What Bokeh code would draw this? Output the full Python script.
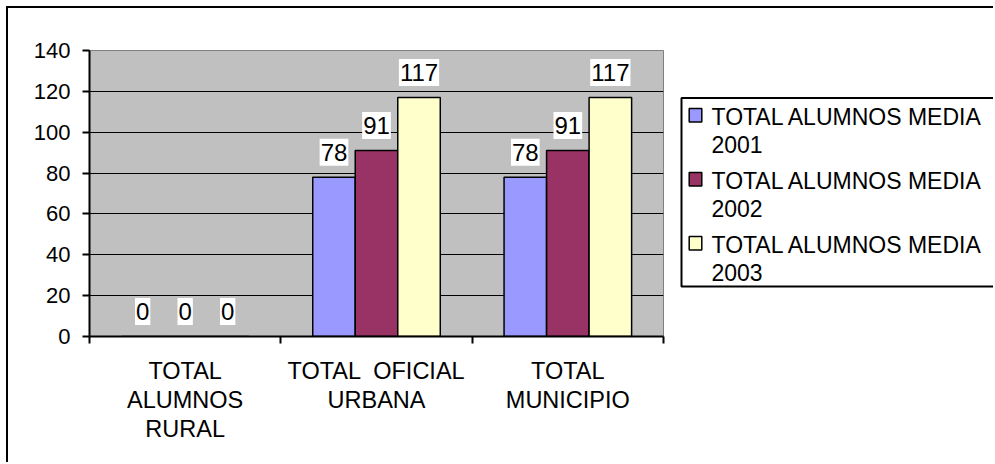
import numpy as np
from bokeh.plotting import figure
from bokeh.layouts import row
from bokeh.models import ColumnDataSource, Range1d, FixedTicker
from bokeh.core.properties import value
from bokeh.embed import file_html
from bokeh.resources import INLINE

# Chart data
categories = ["TOTAL\nALUMNOS\nRURAL", "TOTAL \u00a0OFICIAL\nURBANA", "TOTAL\nMUNICIPIO"]
series_names = ["TOTAL ALUMNOS MEDIA\n2001", "TOTAL ALUMNOS MEDIA\n2002", "TOTAL ALUMNOS MEDIA\n2003"]
media_2001 = [0, 78, 78]
media_2002 = [0, 91, 91]
media_2003 = [0, 117, 117]
series_colors = ["#9999FF", "#993366", "#FFFFCC"]
y_ticks = [0, 20, 40, 60, 80, 100, 120, 140]

FONT = "Liberation Sans"
FRAME = "2px solid black"
TOP, BOTTOM = 42, 128   # space above / below the plot area

# ---- bar chart ----------------------------------------------------------
p = figure(width=660, height=456, output_backend="svg", toolbar_location=None,
           x_range=Range1d(0, len(categories)), y_range=Range1d(0, y_ticks[-1]),
           min_border_left=81, min_border_right=5, min_border_top=TOP, min_border_bottom=BOTTOM,
           background_fill_color="#C0C0C0", border_fill_color="white")
p.outline_line_color = "#808080"
p.outline_line_width = 1
p.margin = (6, 0, 0, 6)
p.styles = {"border-left": FRAME, "border-top": FRAME}

# clustered bars: three series per category, 150% gap
bar_w = 1 / 4.5
offsets = [-bar_w, 0.0, bar_w]
centers = np.arange(len(categories)) + 0.5
for vals, color, off in zip([media_2001, media_2002, media_2003], series_colors, offsets):
    src = ColumnDataSource(dict(x=centers + off, top=vals, label=[str(v) for v in vals]))
    p.vbar(x="x", top="top", width=bar_w, source=src, fill_color=color,
           line_color="black", line_width=1.5)
    p.text(x="x", y="top", text="label", source=src,
           text_align="center", text_baseline="alphabetic", y_offset=-25,
           text_font=value(FONT), text_font_size="24px", text_color="black",
           background_fill_color="white", padding=(1, 5))

# value axis
p.yaxis.ticker = FixedTicker(ticks=y_ticks)
p.yaxis.axis_line_width = 2
p.yaxis.axis_line_color = "black"
p.yaxis.major_tick_line_width = 2
p.yaxis.major_tick_in = 0
p.yaxis.major_tick_out = 7
p.yaxis.minor_tick_line_color = None
p.yaxis.major_label_standoff = 12
p.yaxis.major_label_text_font = FONT
p.yaxis.major_label_text_font_size = "22px"
p.yaxis.major_label_text_color = "black"

# category axis: labels at centres, tick marks at category boundaries
p.xaxis.ticker = FixedTicker(ticks=[float(c) for c in centers],
                             minor_ticks=list(range(len(categories) + 1)))
p.xaxis.major_label_overrides = {float(c): cat for c, cat in zip(centers, categories)}
p.xaxis.axis_line_width = 2
p.xaxis.axis_line_color = "black"
p.xaxis.major_tick_in = 0
p.xaxis.major_tick_out = 0
p.xaxis.minor_tick_in = 0
p.xaxis.minor_tick_out = 7
p.xaxis.minor_tick_line_width = 2
p.xaxis.minor_tick_line_color = "black"
p.xaxis.major_label_standoff = 14
p.xaxis.major_label_text_font = FONT
p.xaxis.major_label_text_font_size = "23.5px"
p.xaxis.major_label_text_color = "black"
p.xaxis.major_label_text_line_height = 1.13

p.xgrid.visible = False
p.ygrid.grid_line_color = "black"
p.ygrid.grid_line_width = 1

# ---- legend panel: page pixel coordinates, y pointing down ----------------
LX0, LX1 = 668, 995
PY0, PY1 = 8 + TOP, 8 + 456 - BOTTOM
lg = figure(width=LX1 - LX0, height=456, output_backend="svg", toolbar_location=None,
            x_range=Range1d(LX0, LX1), y_range=Range1d(PY1, PY0),
            min_border_left=0, min_border_right=0, min_border_top=TOP, min_border_bottom=BOTTOM,
            background_fill_color="white", border_fill_color="white")
lg.axis.visible = False
lg.grid.visible = False
lg.outline_line_color = None
lg.margin = (6, 0, 0, 0)
lg.styles = {"border-top": FRAME}

n = len(series_names)
row_top = 108 + 64 * np.arange(n)
lg.quad(left=[683], right=[LX1 + 20], top=[97.5], bottom=[286],
        fill_color="white", line_color="black", line_width=2)
lg.rect(x=[697] * n, y=row_top + 6.8, width=12.6, height=13.4,
        fill_color=series_colors, line_color="black", line_width=1.5)
lg.text(x=[713] * n, y=row_top - 4.5, text=series_names,
        text_align="left", text_baseline="top", text_line_height=1.09,
        text_font=value(FONT), text_font_size="23px", text_color="black")

open("out.html", "w").write(file_html(row(p, lg), INLINE))
